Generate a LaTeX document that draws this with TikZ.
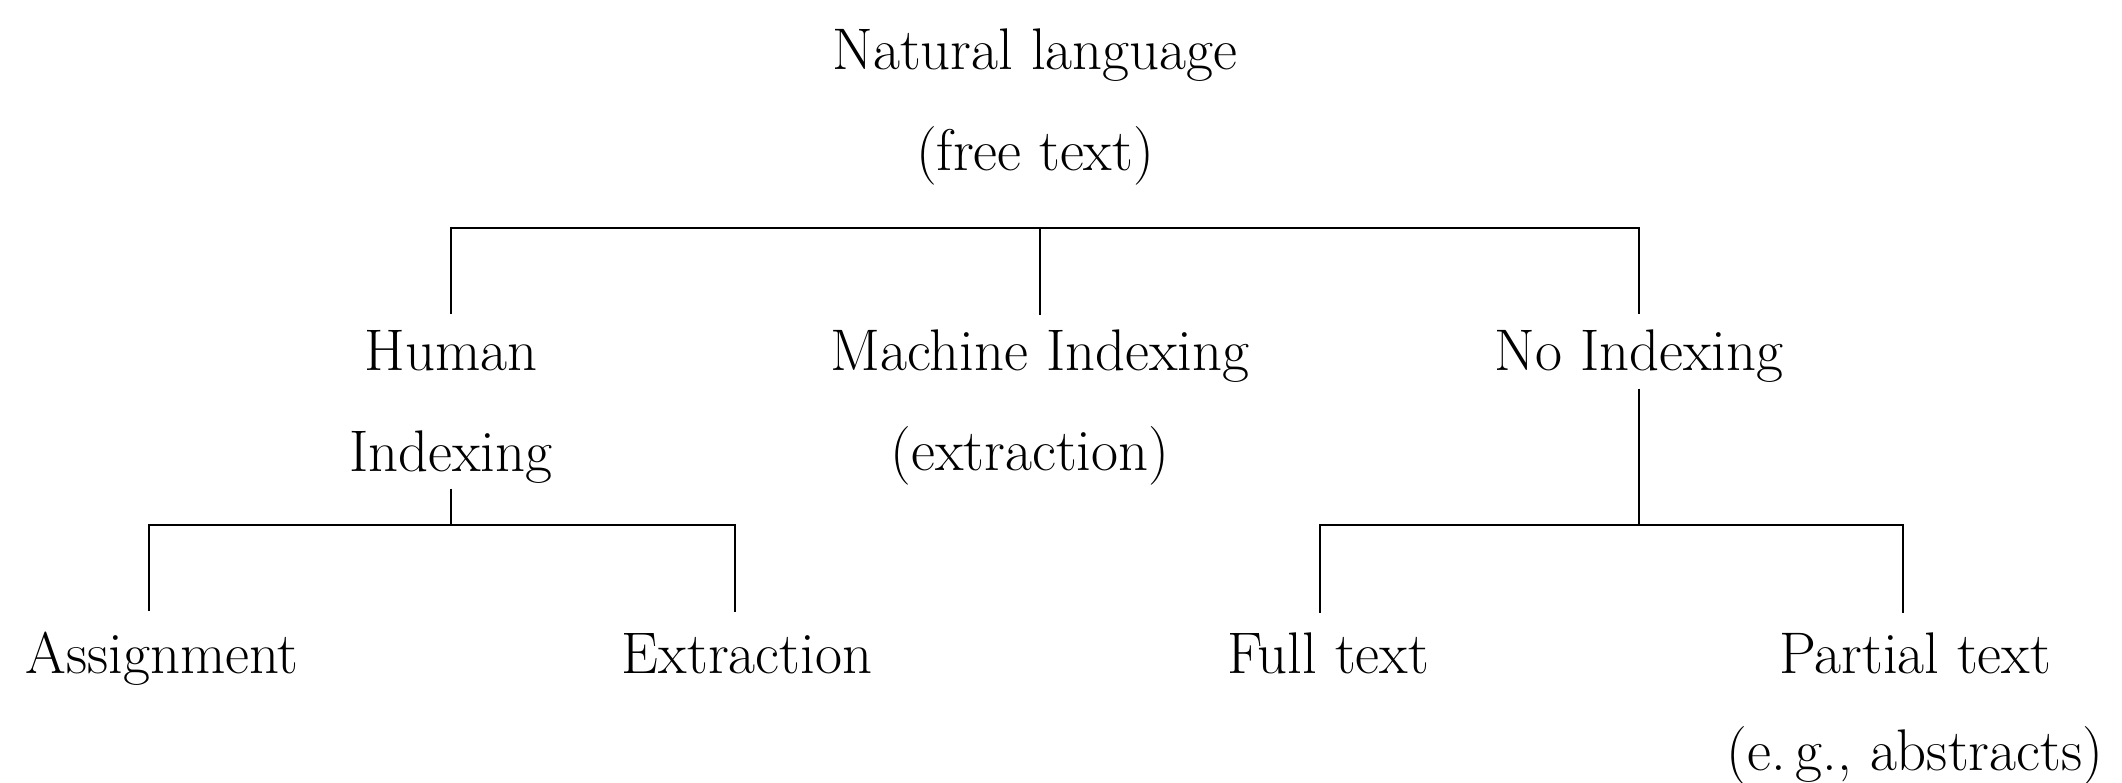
\documentclass[tikz,border=0pt]{standalone}
\usepackage{fontspec}
\usetikzlibrary{calc}
\begin{document}
\begin{tikzpicture}[x=0.01cm, y=-0.01cm,
  lbl/.style={inner sep=0pt, anchor=base, font=\fontsize{16.7}{20}\selectfont},
  link/.style={line width=0.7pt}]
\useasboundingbox (0,0) rectangle (2122,782);

% root
\node[lbl] (nl) at (1035,70) {Natural language};
\node[lbl] (ft) at (1035,170) {(free text)};

% second level
\node[lbl] (hum)  at (451,370)  {Human};
\node[lbl] (hix)  at (451,471)  {Indexing};
\node[lbl] (mach) at (1040,370) {Machine Indexing};
\node[lbl] (mext) at (1030,470) {(extraction)};
\node[lbl] (noix) at (1639,370) {No Indexing};

% third level
\node[lbl] (asg)  at (162,673)  {Assignment};
\node[lbl] (exn)  at (747,673)  {Extraction};
\node[lbl] (full) at (1328,673) {Full text};
\node[lbl] (part) at (1915,673) {Partial text};
\node[lbl] (eg)   at (1915,770) {(e.\,g., abstracts)};

% fork points
\coordinate (fork) at (1040,228);
\coordinate (lf) at (451,525);
\coordinate (rf) at (1639,525);

% top bracket
\draw[link] ($(hum.north)+(0,-15)$) |- (fork) -| ($(noix.north)+(0,-15)$);
\draw[link] (fork) -- ($(mach.north)+(0,-14)$);

% human indexing bracket
\draw[link] ($(hix.south)+(0,5)$) -- (lf);
\draw[link] ($(asg.north)+(-13,-20)$) |- (lf) -| ($(exn.north)+(-12,-20)$);

% no indexing bracket
\draw[link] ($(noix.south)+(0,6)$) -- (rf);
\draw[link] ($(full.north)+(-8,-19)$) |- (rf) -| ($(part.north)+(-12,-19)$);
\end{tikzpicture}
\end{document}
